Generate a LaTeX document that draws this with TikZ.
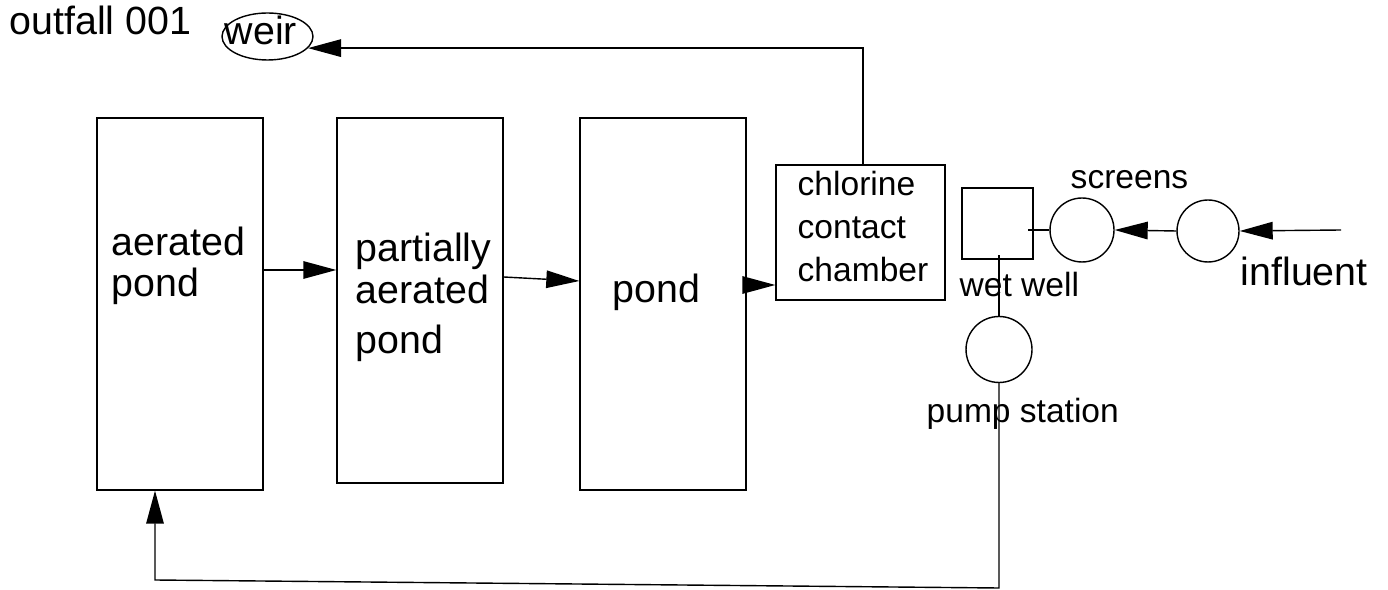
\documentclass[tikz,border=0pt]{standalone}
\usepackage{fontspec}
\setmainfont{Liberation Sans}
\usetikzlibrary{arrows.meta,shapes.geometric}
\tikzset{
  tank/.style={draw, minimum width=3.32cm, inner sep=0pt},
  unit/.style={draw, circle, inner sep=0pt},
  lbl/.style={anchor=base west, inner sep=0pt, align=left},
  big/.style={font=\fontsize{22.4}{23.9}\selectfont},
  small/.style={font=\fontsize{19.1}{24.7}\selectfont},
  flow/.style={-{Triangle[length=0.66cm,width=0.35cm]}}
}
\begin{document}
\begin{tikzpicture}[x=0.02cm, y=-0.02cm, line width=0.8pt]
  \useasboundingbox (0,0) rectangle (1388,590);
  % tanks
  \node[tank, minimum height=7.44cm] (aer) at (180,304) {};
  \node[tank, minimum height=7.30cm] (par) at (420,300.5) {};
  \node[tank, minimum height=7.44cm] (pnd) at (663,304) {};
  \node[draw, minimum width=3.38cm, minimum height=2.7cm] (chl) at (860.5,232.5) {};
  \node[draw, minimum size=1.42cm] (ww) at (997.5,223.5) {};
  \node[unit, minimum size=1.28cm] (scr1) at (1082,230) {};
  \node[unit, minimum size=1.24cm] (scr2) at (1208,231) {};
  \node[unit, minimum size=1.32cm] (pump) at (999,349.5) {};
  \node[draw, ellipse, minimum width=1.82cm, minimum height=0.94cm, inner sep=0pt] (weir) at (267.5,36.5) {};
  % labels (base = last line)
  \node[lbl, big] (outT) at (9,35) {outfall 001};
  \node[lbl, big] (weirT) at (224,45) {weir};
  \node[lbl, big] (aerT) at (111,297) {aerated\\pond};
  \node[lbl, big] (parT) at (355,354) {partially\\aerated\\[5pt]pond};
  \node[lbl, big] (pndT) at (612,303) {pond};
  \node[lbl, small] (chlT) at (797,282) {chlorine\\contact\\chamber};
  \node[lbl, small] (wwT) at (959,297) {wet well};
  \node[lbl, small] (scrT) at (1070,189) {screens};
  \node[lbl, big] (infT) at (1240,286) {influent};
  \node[lbl, small] (pumpT) at (926,423) {pump station};
  % flow lines
  \coordinate (inf) at (1341,230);
  \coordinate (rA) at (999,588);
  \coordinate (rB) at (155,580);
  \draw[flow] (chl.north -| 863,0) |- (weir.-16);
  \draw[flow] (aer.east |- 0,270) -- (par.west |- 0,270);
  \draw[flow] (par.east |- 0,277) -- (pnd.west |- 0,281);
  \draw[flow] (pnd.east |- 0,285) -- (chl.west |- 0,285);
  \draw[flow] (inf) -- (scr2.east);
  \draw[flow] (scr2.west) -- (scr1.east);
  \draw (scr1.west) -- +(-21,0);
  \draw (pump.north) -- +(0,-61);
  \draw[flow] (pump.south) -- (rA) -- (rB) -- (aer.south -| rB);
\end{tikzpicture}
\end{document}
